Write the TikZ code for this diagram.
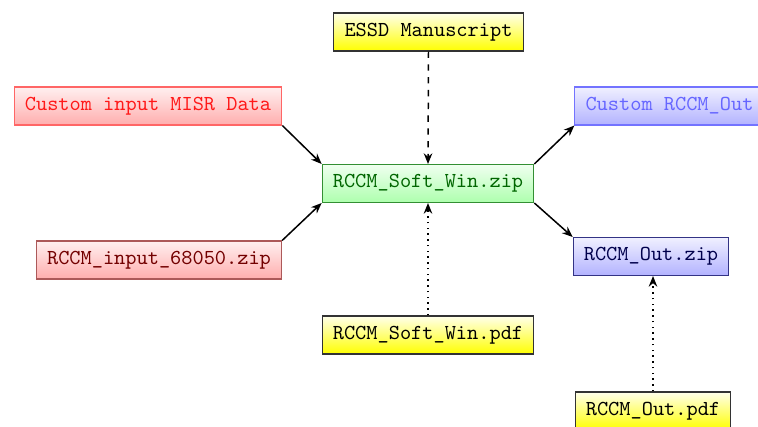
\documentclass[tikz,border=0pt]{standalone}
\usetikzlibrary{arrows.meta}
\begin{document}
\begin{tikzpicture}[x=0.469pt,y=-0.469pt,
  box/.style={draw,font=\ttfamily,inner xsep=5pt,inner ysep=0pt,minimum height=17.8pt,line width=0.5pt},
  redc/.style={box,top color=red!6,bottom color=red!32,draw=red!60,text=red!90},
  redd/.style={box,top color=red!6,bottom color=red!32,draw=red!50!black!65,text=red!45!black},
  greenb/.style={box,top color=green!6,bottom color=green!32,draw=green!45!black!80,text=green!40!black},
  bluec/.style={box,top color=blue!6,bottom color=blue!30,draw=blue!55,text=blue!60},
  blued/.style={box,top color=blue!6,bottom color=blue!30,draw=blue!40!black!80,text=blue!30!black},
  yel/.style={box,top color=yellow!8,bottom color=yellow,draw=black!80,text=black},
  arr/.style={-{Stealth[length=5pt,width=4pt]},line width=0.7pt,black}]
\useasboundingbox (0,0) rectangle (758,427);
\clip (0,0) rectangle (758,427);
\node[yel] (essd) at (428.5,32) {ESSD Manuscript};
\node[redc] (cin) at (148,106) {Custom input MISR Data};
\node[bluec] (cout) at (669.5,106) {Custom RCCM\_Out};
\node[greenb] (soft) at (428,183.5) {RCCM\_Soft\_Win.zip};
\node[redd] (inp) at (159,260) {RCCM\_input\_68050.zip};
\node[blued] (outzip) at (651,256.5) {RCCM\_Out.zip};
\node[yel] (softpdf) at (428,335) {RCCM\_Soft\_Win.pdf};
\node[yel] (outpdf) at (653,411) {RCCM\_Out.pdf};
\draw[arr] (cin.south east) -- (soft.north west);
\draw[arr] (inp.north east) -- (soft.south west);
\draw[arr] (soft.north east) -- (cout.south west);
\draw[arr] (soft.south east) -- (outzip.north west);
\draw[arr,dashed] (essd.south) -- (soft.north);
\draw[arr,dotted] (softpdf.north) -- (soft.south);
\draw[arr,dotted] (outpdf.north) -- (outzip.south -| outpdf.north);
\end{tikzpicture}
\end{document}
